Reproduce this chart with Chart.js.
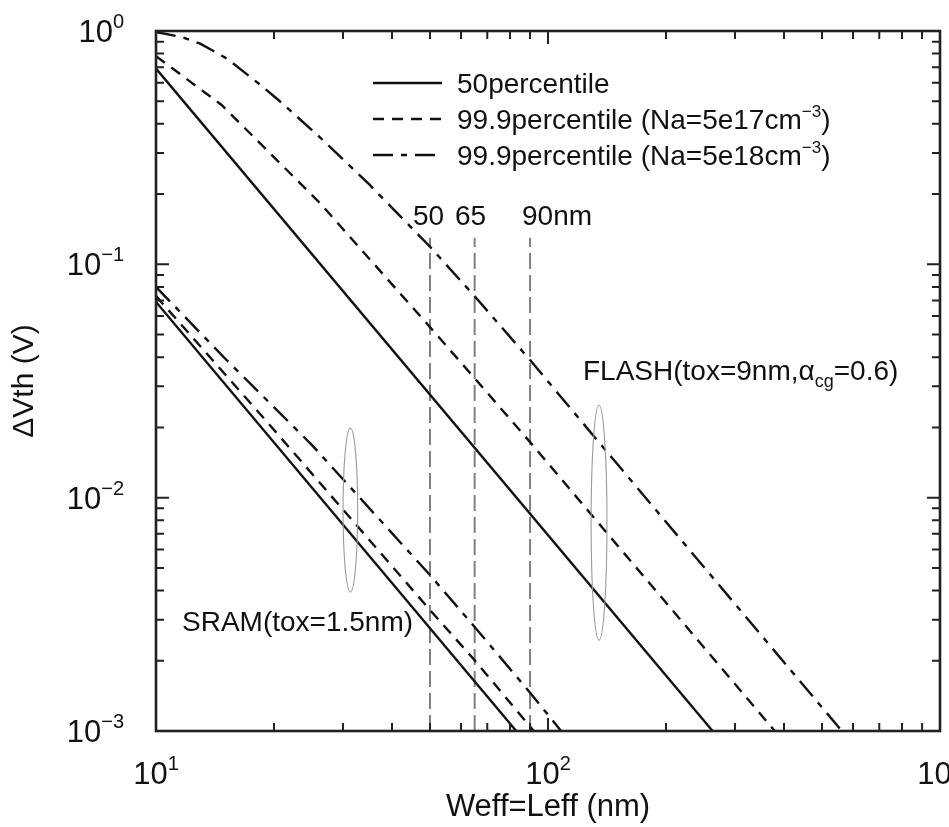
<!DOCTYPE html>
<html>
<head>
<meta charset="utf-8">
<script src="https://cdn.jsdelivr.net/npm/chart.js@4.4.1/dist/chart.umd.min.js"></script>
<style>
  html, body { margin: 0; padding: 0; background: #fff; }
  canvas { display: block; }
</style>
</head>
<body>
<canvas id="vth" width="949" height="827"></canvas>
<script>
// Weff = Leff in nm, delta Vth in V

// SRAM, tox = 1.5nm
const sramMedX = [10, 83];
const sramMedY = [0.069, 0.001];
const sramLowNaX = [10, 19.5, 50, 65, 92];
const sramLowNaY = [0.0731, 0.0205, 0.0033, 0.00201, 0.001];
const sramHighNaX = [10, 15, 25, 50, 65, 90, 108];
const sramHighNaY = [0.080, 0.0395, 0.0168, 0.00466, 0.00279, 0.00146, 0.001];

// FLASH, tox = 9nm
const flashMedX = [10, 263];
const flashMedY = [0.69, 0.001];
const flashLowNaX = [10, 14.7, 26.2, 50, 65, 90, 138, 379];
const flashLowNaY = [0.78, 0.482, 0.183, 0.0538, 0.0325, 0.0173, 0.0074, 0.001];
const flashHighNaX = [10, 11.7, 13, 15.2, 18.4, 20.7, 26.2, 35, 50, 65, 90, 138, 562];
const flashHighNaY = [0.99, 0.94, 0.88, 0.76, 0.59, 0.50, 0.35, 0.22, 0.119, 0.073, 0.0389, 0.0165, 0.001];

// technology nodes
const nodes = [50, 65, 90];
const nodeTop = 0.13;

const xDecades = [10, 100, 1000];
const yDecades = [0.001, 0.01, 0.1, 1];

const FONT = '"Liberation Sans", Arial, Helvetica, sans-serif';
const INK = '#111';

const solid = [];
const dashed = [11, 8];
const dashDot = [20, 8, 6, 8];

function pts(xs, ys) {
  return xs.map((x, i) => ({ x: x, y: ys[i] }));
}

function curve(xs, ys, dash) {
  return {
    data: pts(xs, ys),
    borderColor: INK,
    borderWidth: 2.4,
    borderDash: dash,
    pointRadius: 0,
    tension: 0,
    fill: false
  };
}

const datasets = [
  curve(sramMedX, sramMedY, solid),
  curve(sramLowNaX, sramLowNaY, dashed),
  curve(sramHighNaX, sramHighNaY, dashDot),
  curve(flashMedX, flashMedY, solid),
  curve(flashLowNaX, flashLowNaY, dashed),
  curve(flashHighNaX, flashHighNaY, dashDot)
];

nodes.forEach(n => {
  datasets.push({
    data: [{ x: n, y: 0.001 }, { x: n, y: nodeTop }],
    borderColor: '#808080',
    borderWidth: 2,
    borderDash: [16, 6],
    pointRadius: 0,
    fill: false
  });
});

// text with raised/lowered pieces, drawn left to right
function richWidth(ctx, parts) {
  let w = 0;
  parts.forEach(p => {
    ctx.font = p.size + 'px ' + FONT;
    w += ctx.measureText(p.t).width;
  });
  return w;
}

function drawRich(ctx, parts, x, y) {
  ctx.textAlign = 'left';
  ctx.textBaseline = 'alphabetic';
  parts.forEach(p => {
    ctx.font = p.size + 'px ' + FONT;
    ctx.fillText(p.t, x, y + (p.dy || 0));
    x += ctx.measureText(p.t).width;
  });
}

function powParts(v) {
  const e = Math.round(Math.log10(v));
  return [
    { t: '10', size: 31 },
    { t: e < 0 ? '\u2212' + (-e) : String(e), size: 20, dy: -14 }
  ];
}

// ellipses around each group, given in data units
const groups = [
  { x0: 30.0, x1: 32.7, y0: 0.00394, y1: 0.01987 },
  { x0: 128.8, x1: 141.4, y0: 0.00245, y1: 0.0249 }
];

const decor = {
  id: 'decor',
  afterDatasetsDraw(chart) {
    const ctx = chart.ctx;
    const xs = chart.scales.x, ys = chart.scales.y;
    const a = chart.chartArea;

    ctx.save();
    ctx.strokeStyle = '#9a9a9a';
    ctx.lineWidth = 1.1;
    groups.forEach(g => {
      const l = xs.getPixelForValue(g.x0), r = xs.getPixelForValue(g.x1);
      const t = ys.getPixelForValue(g.y1), b = ys.getPixelForValue(g.y0);
      ctx.beginPath();
      ctx.ellipse((l + r) / 2, (t + b) / 2, (r - l) / 2, (b - t) / 2, 0, 0, Math.PI * 2);
      ctx.stroke();
    });

    // frame
    ctx.strokeStyle = '#222';
    ctx.lineWidth = 2.6;
    ctx.strokeRect(a.left, a.top, a.right - a.left, a.bottom - a.top);

    // inward ticks on all four sides
    ctx.lineWidth = 2;
    ctx.beginPath();
    for (let d = 10; d < 1000; d *= 10) {
      for (let k = 1; k <= 10; k++) {
        const px = xs.getPixelForValue(d * k);
        const len = (k === 1 || k === 10) ? 13 : 8;
        ctx.moveTo(px, a.bottom); ctx.lineTo(px, a.bottom - len);
        ctx.moveTo(px, a.top); ctx.lineTo(px, a.top + len);
      }
    }
    for (let d = 0.001; d < 0.9; d *= 10) {
      for (let k = 1; k <= 10; k++) {
        const py = ys.getPixelForValue(d * k);
        const len = (k === 1 || k === 10) ? 13 : 8;
        ctx.moveTo(a.left, py); ctx.lineTo(a.left + len, py);
        ctx.moveTo(a.right, py); ctx.lineTo(a.right - len, py);
      }
    }
    ctx.stroke();

    ctx.fillStyle = INK;

    // tick labels
    xDecades.forEach(v => {
      const parts = powParts(v);
      const w = richWidth(ctx, parts);
      drawRich(ctx, parts, xs.getPixelForValue(v) - w / 2, 784);
    });
    yDecades.forEach(v => {
      const parts = powParts(v);
      const w = richWidth(ctx, parts);
      drawRich(ctx, parts, 124 - w, ys.getPixelForValue(v) + 11);
    });

    // axis titles
    ctx.font = '31px ' + FONT;
    ctx.textAlign = 'center';
    ctx.fillText('Weff=Leff (nm)', (a.left + a.right) / 2, 816);
    ctx.save();
    ctx.translate(33, (a.top + a.bottom) / 2);
    ctx.rotate(-Math.PI / 2);
    ctx.font = '30px ' + FONT;
    ctx.fillText('\u0394Vth (V)', 0, 0);
    ctx.restore();

    // legend
    const rows = [
      { dash: solid, parts: [{ t: '50percentile', size: 28 }] },
      { dash: dashed, parts: [{ t: '99.9percentile (Na=5e17cm', size: 28 }, { t: '\u22123', size: 17, dy: -12 }, { t: ')', size: 28 }] },
      { dash: dashDot, parts: [{ t: '99.9percentile (Na=5e18cm', size: 28 }, { t: '\u22123', size: 17, dy: -12 }, { t: ')', size: 28 }] }
    ];
    rows.forEach((row, i) => {
      const y = 83 + i * 36;
      ctx.save();
      ctx.strokeStyle = INK;
      ctx.lineWidth = 2.4;
      ctx.setLineDash(row.dash);
      ctx.beginPath();
      ctx.moveTo(373, y);
      ctx.lineTo(442, y);
      ctx.stroke();
      ctx.restore();
      drawRich(ctx, row.parts, 457, y + 10);
    });

    // node labels
    ctx.font = '28px ' + FONT;
    ctx.textAlign = 'left';
    ctx.fillText('50', 413, 225);
    ctx.fillText('65', 455, 225);
    ctx.fillText('90nm', 522, 225);

    // group labels
    drawRich(ctx, [{ t: 'SRAM(tox=1.5nm)', size: 28 }], 182, 631);
    drawRich(ctx, [
      { t: 'FLASH(tox=9nm,\u03b1', size: 28 },
      { t: 'cg', size: 18, dy: 7 },
      { t: '=0.6)', size: 28 }
    ], 583, 380);

    ctx.restore();
  }
};

new Chart(document.getElementById('vth'), {
  type: 'line',
  data: { datasets: datasets },
  options: {
    responsive: false,
    animation: false,
    layout: { padding: { left: 156, right: 9, top: 31, bottom: 96 } },
    plugins: { legend: { display: false }, tooltip: { enabled: false } },
    scales: {
      x: { type: 'logarithmic', min: 10, max: 1000, display: false },
      y: { type: 'logarithmic', min: 0.001, max: 1, display: false }
    }
  },
  plugins: [decor]
});
</script>
</body>
</html>
